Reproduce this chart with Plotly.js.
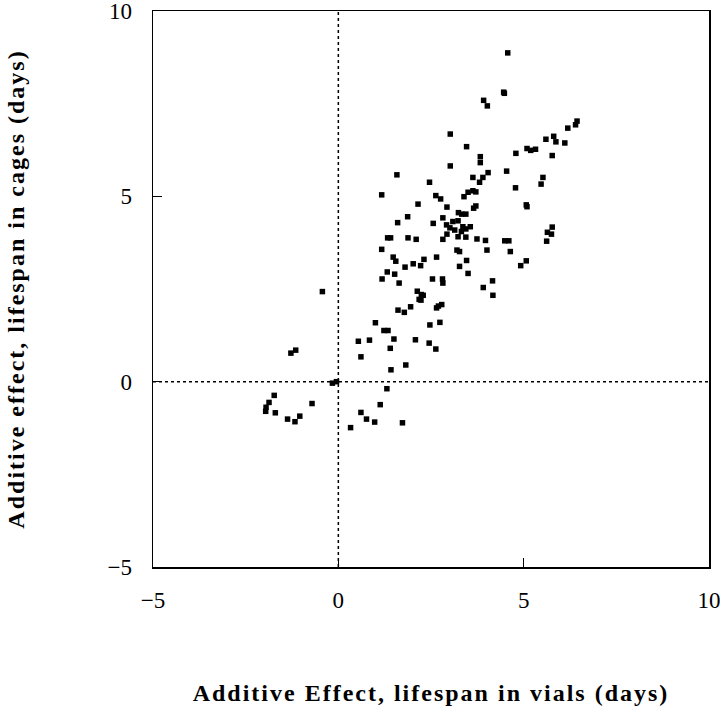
<!DOCTYPE html>
<html>
<head>
<meta charset="utf-8">
<script src="https://cdn.plot.ly/plotly-3.0.1.min.js"></script>
<style>
html,body{margin:0;padding:0;background:#fff;}
#chart{width:720px;height:706px;}
#chart .xtitle, #chart .ytitle{letter-spacing:2px;}
</style>
</head>
<body>
<div id="chart"></div>
<script>
var vialsEffect = [4.57,4.46,4.48,3.92,4.02,3.02,3.46,3.83,3.83,3.02,1.58,2.46,3.63,3.90,4.04,3.81,4.54,5.52,5.47,4.79,5.09,5.19,5.32,5.60,5.81,5.87,5.77,6.11,6.19,6.40,6.44,4.78,1.17,2.63,2.76,3.50,3.63,3.71,3.39,2.15,2.93,3.65,3.71,5.07,5.09,3.24,3.33,3.44,1.87,1.60,2.56,2.82,3.09,3.23,2.92,3.01,3.14,3.36,3.44,3.32,3.56,5.77,5.64,5.75,5.62,1.33,1.41,1.88,2.10,2.82,2.93,3.23,3.44,3.74,3.97,4.49,4.60,4.01,4.64,5.07,4.92,1.17,1.48,1.55,2.31,2.65,2.02,2.22,1.80,3.20,3.27,3.46,3.27,3.50,1.32,1.52,1.18,1.64,2.54,2.81,2.82,4.16,3.91,4.17,2.13,2.24,2.29,2.18,2.23,1.61,1.78,1.95,2.65,2.70,2.79,2.47,2.74,1.23,1.34,1.50,1.40,2.08,2.45,2.63,1.82,1.42,1.31,-0.43,1.00,0.54,0.84,0.61,-1.28,-1.15,-0.16,-0.05,-1.73,-1.87,-1.95,-1.96,-1.70,-0.71,-1.37,-1.17,-1.04,1.13,0.61,0.76,0.98,0.33,1.73];
var cagesEffect = [8.87,7.81,7.78,7.59,7.44,6.68,6.34,6.07,5.91,5.82,5.58,5.38,5.51,5.51,5.64,5.38,5.68,5.51,5.33,6.16,6.29,6.24,6.27,6.54,6.62,6.47,6.10,6.44,6.84,6.93,7.03,5.23,5.04,5.02,4.93,5.11,5.15,5.12,4.99,4.79,4.71,4.68,4.74,4.77,4.72,4.56,4.52,4.52,4.45,4.29,4.27,4.42,4.32,4.34,4.23,4.15,4.09,4.18,4.12,4.05,4.18,4.17,4.03,3.98,3.79,3.88,3.88,3.88,3.84,3.84,3.98,3.91,3.90,3.85,3.81,3.80,3.80,3.55,3.51,3.26,3.13,3.57,3.36,3.25,3.30,3.36,3.18,3.13,3.09,3.55,3.51,3.27,3.11,2.92,2.96,2.90,2.77,2.66,2.77,2.77,2.66,2.72,2.54,2.33,2.44,2.35,2.33,2.22,2.20,1.93,1.87,2.02,1.99,2.04,2.08,1.53,1.60,1.38,1.38,1.15,0.90,1.13,1.04,0.88,0.45,0.32,-0.19,2.43,1.59,1.09,1.12,0.67,0.77,0.85,-0.04,0.00,-0.37,-0.56,-0.69,-0.80,-0.84,-0.59,-1.01,-1.08,-0.93,-0.62,-0.83,-1.01,-1.09,-1.24,-1.11];
var tickValues = [-5, 0, 5, 10];
var tickLabels = ['\u22125', '0', '5', '10'];
var xTitle = 'Additive Effect, lifespan in vials (days)';
var yTitle = 'Additive effect, lifespan in cages (days)';

var serif = 'Liberation Serif, Times New Roman, serif';

var trace = {
  x: vialsEffect,
  y: cagesEffect,
  type: 'scatter',
  mode: 'markers',
  marker: {symbol: 'square', size: 5.5, color: '#000', line: {width: 0}},
  hoverinfo: 'x+y'
};

var axisCommon = {
  range: [-5, 10],
  tickmode: 'array',
  tickvals: tickValues,
  ticktext: tickLabels,
  ticks: 'inside',
  ticklen: 9,
  tickwidth: 1.5,
  tickcolor: '#000',
  showline: true,
  linecolor: '#000',
  linewidth: 1.5,
  mirror: true,
  showgrid: false,
  zeroline: false,
  ticklabeloverflow: 'allow',
  tickfont: {family: serif, size: 23, color: '#000'},
  automargin: false
};

var layout = {
  width: 720,
  height: 706,
  margin: {l: 153, r: 11, t: 11, b: 139},
  paper_bgcolor: '#fff',
  plot_bgcolor: '#fff',
  showlegend: false,
  xaxis: Object.assign({}, axisCommon, {
    ticklabelstandoff: 12,
    title: {text: xTitle, font: {family: serif, size: 24, color: '#000', weight: 'bold'}, standoff: 72}
  }),
  yaxis: Object.assign({}, axisCommon, {
    ticklabelstandoff: 15,
    title: {text: yTitle, font: {family: serif, size: 24, color: '#000', weight: 'bold'}, standoff: 76}
  }),
  shapes: [
    {type: 'line', xref: 'x', yref: 'paper', x0: 0, x1: 0, y0: 0, y1: 1, line: {color: '#000', width: 1.5, dash: 'dot'}},
    {type: 'line', xref: 'paper', yref: 'y', x0: 0, x1: 1, y0: 0, y1: 0, line: {color: '#000', width: 1.5, dash: 'dot'}}
  ]
};

Plotly.newPlot('chart', [trace], layout, {displayModeBar: false, staticPlot: true});
</script>
</body>
</html>
